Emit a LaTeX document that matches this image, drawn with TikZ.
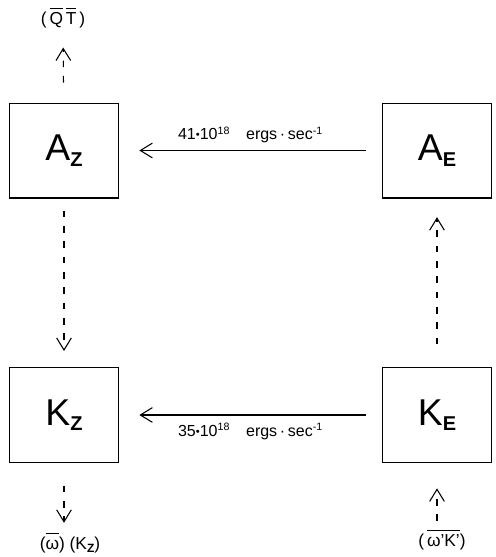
\documentclass[tikz,border=0pt]{standalone}
\usepackage{fontspec}
\setmainfont{Liberation Sans}
\usetikzlibrary{arrows.meta}
\newcommand{\ovl}[1]{$\overline{\hbox{#1\rule{0pt}{0.86em}}}$}
\newcommand{\boxsub}[1]{\raisebox{-4pt}{\fontsize{15}{15}\selectfont\bfseries #1}}
\newcommand{\labsub}[1]{\raisebox{-2pt}{\fontsize{9}{9}\selectfont\bfseries #1}}
\newcommand{\bdot}{\raisebox{0.15ex}{\scalebox{0.7}{•}}}
\begin{document}
\begin{tikzpicture}[x=0.75pt,y=-0.75pt,
    box/.style={draw,line width=1pt,minimum width=82pt,minimum height=71pt,
        font=\fontsize{28}{30}\selectfont},
    flow/.style={line width=0.8pt,-{Straight Barb[length=9pt,width=11pt]}},
    dflow/.style={flow,dash pattern=on 5pt off 6.5pt},
    lab/.style={font=\fontsize{13}{15}\selectfont},
    rate/.style={font=\fontsize{12}{14}\selectfont}]
    \tikzstyle{every node}+=[inner sep=0pt]
    \useasboundingbox (0,0) rectangle (496,557);
    \node [box] (AZ) at (64,150.5) {A\boxsub{Z}};
    \node [box] (AE) at (437,150.5) {A\boxsub{E}};
    \node [box] (KZ) at (64,415) {K\boxsub{Z}};
    \node [box] (KE) at (437,415) {K\boxsub{E}};
    \node [lab] (qt) at (63,18) {(\,\ovl{Q}\,\ovl{T}\,)};
    \node [lab] (wk) at (70,543) {(\ovl{ω}) (K\labsub{Z})};
    \node [lab] (wkp) at (442,540) {(\,\ovl{ω'K'})};
    \draw [flow,shorten <=12pt,shorten >=15pt] (AE) --
        node [rate,above=5pt] {41\bdot10\textsuperscript{18}\quad ergs\,·\,sec\textsuperscript{-1}} (AZ);
    \draw [flow,shorten <=12pt,shorten >=15pt] (KE) --
        node [rate,below=6pt] {35\bdot10\textsuperscript{18}\quad ergs\,·\,sec\textsuperscript{-1}} (KZ);
    \draw [dflow,shorten <=9pt,shorten >=12pt] (AZ) -- (KZ);
    \draw [dflow,shorten <=17pt,shorten >=14pt] (KE) -- (AE);
    \draw [dflow,shorten <=15pt,shorten >=14pt] (AZ) -- (qt);
    \draw [dflow,shorten <=17pt,shorten >=7pt] (KZ.south) -- (KZ.south |- wk.north);
    \draw [dflow,shorten <=6pt,shorten >=19pt] (KE.south |- wkp.north) -- (KE.south);
\end{tikzpicture}
\end{document}
